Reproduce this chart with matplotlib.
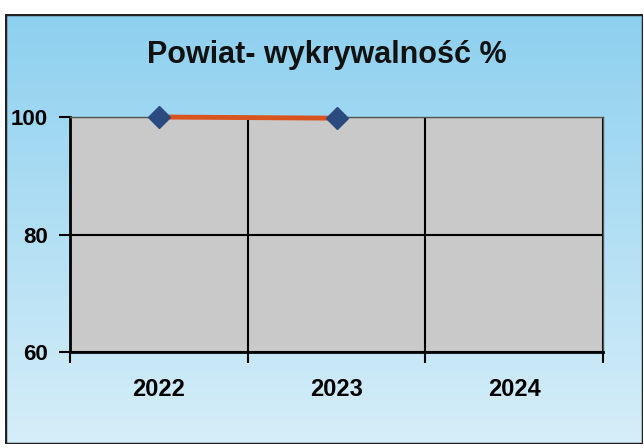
import numpy as np
import matplotlib.pyplot as plt
from matplotlib.patches import Rectangle
from matplotlib.colors import LinearSegmentedColormap

# Data
years = ["2022", "2023", "2024"]
detection = [100.0, 99.8]   # no value for 2024
y_ticks = [60, 80, 100]

title = "Powiat- wykrywalność %"

plt.rcParams['font.family'] = ['Liberation Sans', 'DejaVu Sans']

fig = plt.figure(figsize=(6.44, 4.48), dpi=100)
fig.patch.set_facecolor("white")

# blue gradient background of the chart area
bg = fig.add_axes([5 / 644, 4 / 448, 638 / 644, 430 / 448], zorder=0)
cmap = LinearSegmentedColormap.from_list("bg", ["#8dd0ef", "#d6eef9"])
grad = np.linspace(0, 1, 256).reshape(-1, 1)
bg.imshow(grad, aspect="auto", cmap=cmap, extent=[0, 1, 0, 1])
bg.add_patch(Rectangle((0, 0), 1, 1, transform=bg.transAxes, fill=False,
                       edgecolor="#222222", linewidth=2.5))
bg.set_axis_off()

ax = fig.add_axes([70 / 644, 96 / 448, 533 / 644, 235 / 448], zorder=1)
ax.set_facecolor("#c9c9c9")

x = np.arange(len(years))
ax.plot(x[:len(detection)], detection, color="#d9531e", linewidth=3.5,
        marker="D", markersize=11, markerfacecolor="#2b4a80",
        markeredgecolor="#2b4a80", clip_on=False, zorder=3)

ax.set_xlim(-0.5, len(years) - 0.5)
ax.set_ylim(60, 100)
ax.set_yticks(y_ticks)
ax.set_yticklabels([str(v) for v in y_ticks], fontsize=16, fontweight="bold")
ax.set_xticks(x)
ax.set_xticklabels(years, fontsize=17, fontweight="bold")
ax.tick_params(axis="x", which="major", length=0, pad=19)
ax.set_xticks(np.arange(len(years) + 1) - 0.5, minor=True)
ax.tick_params(axis="x", which="minor", length=8, width=1.5, direction="out")
ax.tick_params(axis="y", length=8, width=1.5, direction="out", pad=8)

ax.grid(True, axis="y", which="major", color="black", linewidth=1.5)
ax.grid(True, axis="x", which="minor", color="black", linewidth=1.5)
for side in ["left", "bottom"]:
    ax.spines[side].set_linewidth(2)
for side in ["top", "right"]:
    ax.spines[side].set_color("#555555")
    ax.spines[side].set_linewidth(1)

fig.text(0.5 + 5 / 644, 1 - 55 / 448, title, ha="center", va="center",
         fontsize=22, fontweight="bold", color="#111111")

fig.savefig("out.png", dpi=100)
